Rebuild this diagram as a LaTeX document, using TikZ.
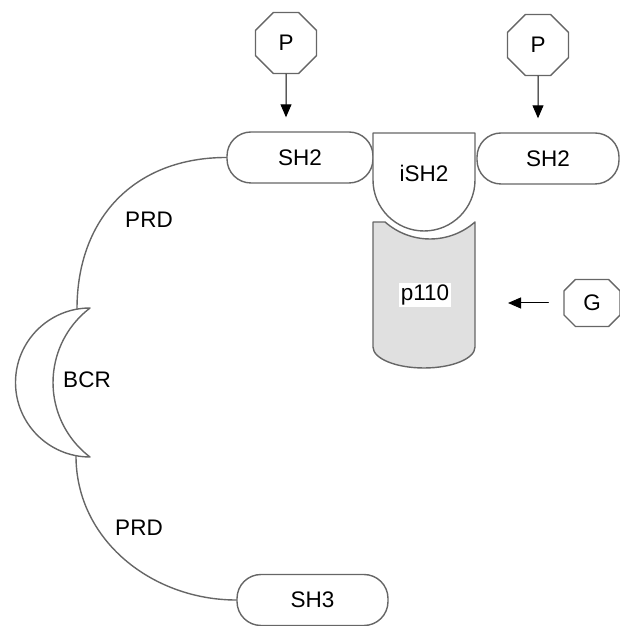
\documentclass[tikz,border=0pt]{standalone}
\usepackage{fontspec}
\setmainfont{Liberation Sans}
\usetikzlibrary{shapes.geometric,shapes.misc,arrows.meta}
\tikzset{
	oct/.style={draw=black!60, line width=1.4pt, regular polygon, regular polygon sides=8, minimum size=66pt, inner sep=0pt},
	dom/.style={draw=black!60, line width=1.4pt, rounded corners=24pt, minimum height=51pt},
	link/.style={draw=black!60, line width=1.4pt},
	arr/.style={->, line width=1pt}
}
\begin{document}
\begin{tikzpicture}[x=1pt, y=1pt, font=\fontsize{22.5}{26}\selectfont, line join=round, line cap=round, >={Triangle[length=13pt,width=11pt]}]
	\useasboundingbox (0,0) rectangle (620,626);
	\node[oct] (pl) at (286,583) {P};
	\node[oct] (pr) at (538,581) {P};
	\node[dom, minimum width=146pt] (sh2l) at (300,468.5) {SH2};
	\node[dom, minimum width=142pt] (sh2r) at (548,467.5) {SH2};
	\draw[arr, shorten >=14pt] (pl) -- (pl |- sh2l.north);
	\draw[arr, shorten >=14pt] (pr) -- (pr |- sh2r.north);
	\draw[link, fill=white] (373,493) -- (373,446) arc[start angle=180, end angle=360, radius=51] -- (475,493) -- cycle;
	\node (ish2) at (424,453) {iSH2};
	\draw[link, fill=black!12] (373,404) -- (373,279) arc[start angle=180, end angle=360, x radius=51, y radius=21] -- (475,404) arc[start angle=311.4, end angle=228.6, radius=68] -- cycle;
	\node[fill=white, inner sep=2pt] (p110) at (425,331) {p110};
	\coordinate (p110e) at (475,323);
	\node[draw=black!60, line width=1.4pt, chamfered rectangle, chamfered rectangle xsep=12pt, minimum width=56pt, minimum height=47pt, inner sep=0pt] (g) at (592,323) {G};
	\draw[arr, shorten <=15pt, shorten >=33pt] (g.west) -- (p110e);
	\draw[link, fill=white] (90,318) arc[start angle=90, end angle=270, radius=74.5] arc[start angle=232.8, end angle=127.2, radius=93.5] -- cycle;
	\coordinate (bcrt) at (77,317);
	\coordinate (bcrb) at (76,170);
	\node (bcr) at (87,246) {BCR};
	\node[dom, minimum width=151pt] (sh3) at (312.5,26) {SH3};
	\draw[link] (sh2l.west) to[out=180, in=90, looseness=1.1] (bcrt);
	\draw[link] (bcrb) to[out=-90, in=180] (sh3.west);
	\node (prd1) at (149,406) {PRD};
	\node (prd2) at (139,98) {PRD};
\end{tikzpicture}
\end{document}
